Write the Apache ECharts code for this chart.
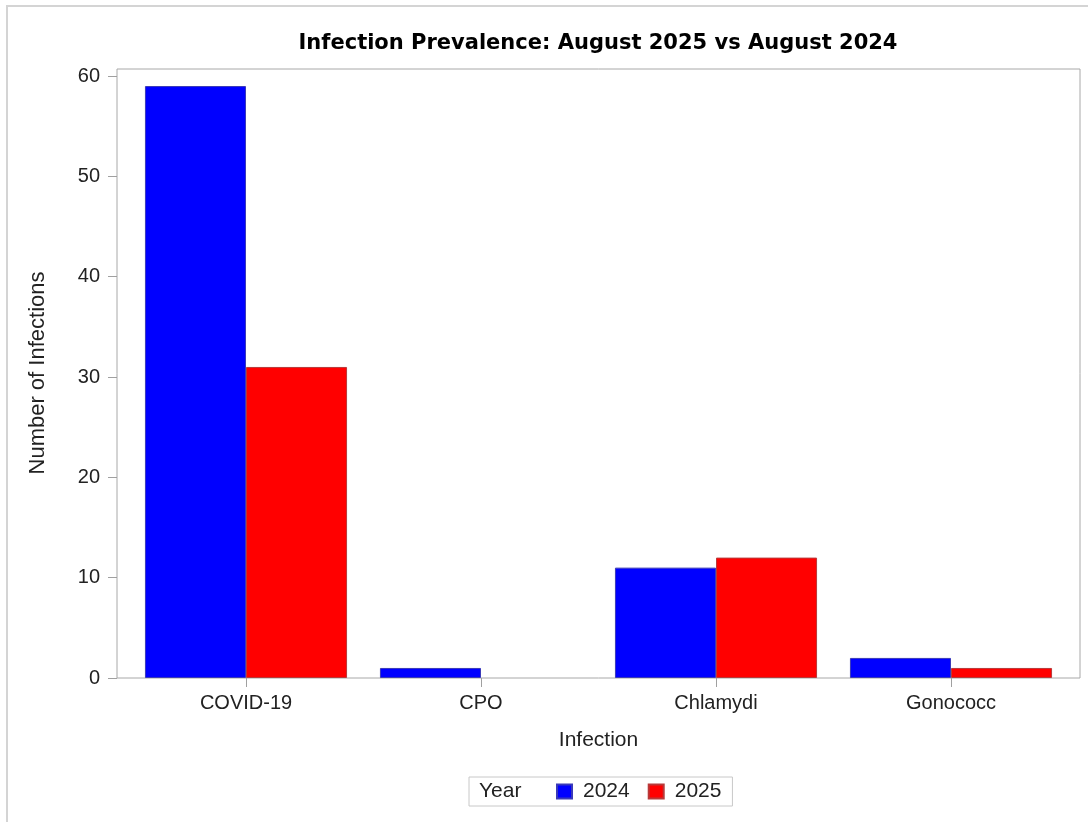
<!DOCTYPE html>
<html>
<head>
<meta charset="utf-8">
<script src="https://cdn.jsdelivr.net/npm/echarts@6/dist/echarts.min.js"></script>
<style>
html,body{margin:0;padding:0;background:#fff;}
#chart{width:1088px;height:822px;}
</style>
</head>
<body>
<div id="chart"></div>
<script>
const categories = ['COVID-19', 'CPO', 'Chlamydi', 'Gonococc'];
const years = ['2024', '2025'];
const values2024 = [59, 1, 11, 2];
const values2025 = [31, null, 12, 1];
const yTicks = { min: 0, max: 60, interval: 10 };
const titleText = 'Infection Prevalence: August 2025 vs August 2024';

const FONT = 'Liberation Sans, Arial, Helvetica, sans-serif';
const TITLE_FONT = 'DejaVu Sans, Liberation Sans, Arial, sans-serif';
const chart = echarts.init(document.getElementById('chart'), null, { renderer: 'canvas' });

const option = {
  backgroundColor: '#ffffff',
  animation: false,
  title: {
    text: titleText,
    left: 593,
    top: 28,
    textAlign: 'center',
    textStyle: { fontFamily: TITLE_FONT, fontSize: 21, fontWeight: 'bold', color: '#000' }
  },
  graphic: [
    { type: 'rect', silent: true, z: -10,
      shape: { x: 7, y: 6, width: 1200, height: 1000 },
      style: { fill: 'none', stroke: '#d4d4d4', lineWidth: 2 } },
    { type: 'text', left: 479, top: 781, z: 100,
      style: { text: 'Year', fontFamily: FONT, fontSize: 21, fill: '#222' } }
  ],
  legend: {
    data: years,
    left: 469,
    top: 777,
    padding: [4, 11, 4, 87],
    itemGap: 18,
    itemWidth: 15,
    itemHeight: 14,
    borderColor: '#c8c8c8',
    borderWidth: 1,
    borderRadius: 0,
    icon: 'rect',
    textStyle: { fontFamily: FONT, fontSize: 21, color: '#222', padding: [0, 0, 0, 6] }
  },
  grid: [
    { left: 117, right: 8, top: 76, bottom: 144, show: false },
    { left: 128.5, right: 19.5, top: 76, bottom: 144, show: false },
    { left: 117, right: 8, top: 69, bottom: 144, show: true, borderColor: '#a8a8a8', borderWidth: 1, backgroundColor: 'transparent' }
  ],
  xAxis: [
    { type: 'category', gridIndex: 0, data: categories, show: false },
    { type: 'category', gridIndex: 1, data: categories, boundaryGap: true,
      name: 'Infection', nameLocation: 'middle', nameGap: 52,
      nameTextStyle: { fontFamily: FONT, fontSize: 21, color: '#222' },
      axisLine: { show: false },
      axisTick: { show: true, alignWithLabel: true, length: 9, lineStyle: { color: '#a0a0a0', width: 1 } },
      axisLabel: { fontFamily: FONT, fontSize: 20, color: '#222', margin: 15 },
      splitLine: { show: false } },
    { type: 'category', gridIndex: 2, data: categories, show: false }
  ],
  yAxis: [
    { type: 'value', gridIndex: 0, min: yTicks.min, max: yTicks.max, interval: yTicks.interval,
      name: 'Number of Infections', nameLocation: 'middle', nameGap: 68, nameRotate: 90,
      nameTextStyle: { fontFamily: FONT, fontSize: 22, color: '#222', padding: [0, 0, 0, 8] },
      axisLine: { show: false },
      axisTick: { show: true, length: 9, lineStyle: { color: '#a0a0a0', width: 1 } },
      axisLabel: { fontFamily: FONT, fontSize: 20, color: '#222', margin: 17 },
      splitLine: { show: false } },
    { type: 'value', gridIndex: 1, min: yTicks.min, max: yTicks.max, interval: yTicks.interval, show: false, splitLine: { show: false } },
    { type: 'value', gridIndex: 2, min: yTicks.min, max: yTicks.max, show: false, splitLine: { show: false } }
  ],
  series: [
    { name: years[0], type: 'bar', xAxisIndex: 1, yAxisIndex: 1, data: values2024,
      barGap: '0%', barCategoryGap: '14%',
      itemStyle: { color: '#0000ff', borderColor: '#3a3ab8', borderWidth: 1 } },
    { name: years[1], type: 'bar', xAxisIndex: 1, yAxisIndex: 1, data: values2025,
      barGap: '0%', barCategoryGap: '14%',
      itemStyle: { color: '#ff0000', borderColor: '#b83a3a', borderWidth: 1 } }
  ]
};
chart.setOption(option);
</script>
</body>
</html>
